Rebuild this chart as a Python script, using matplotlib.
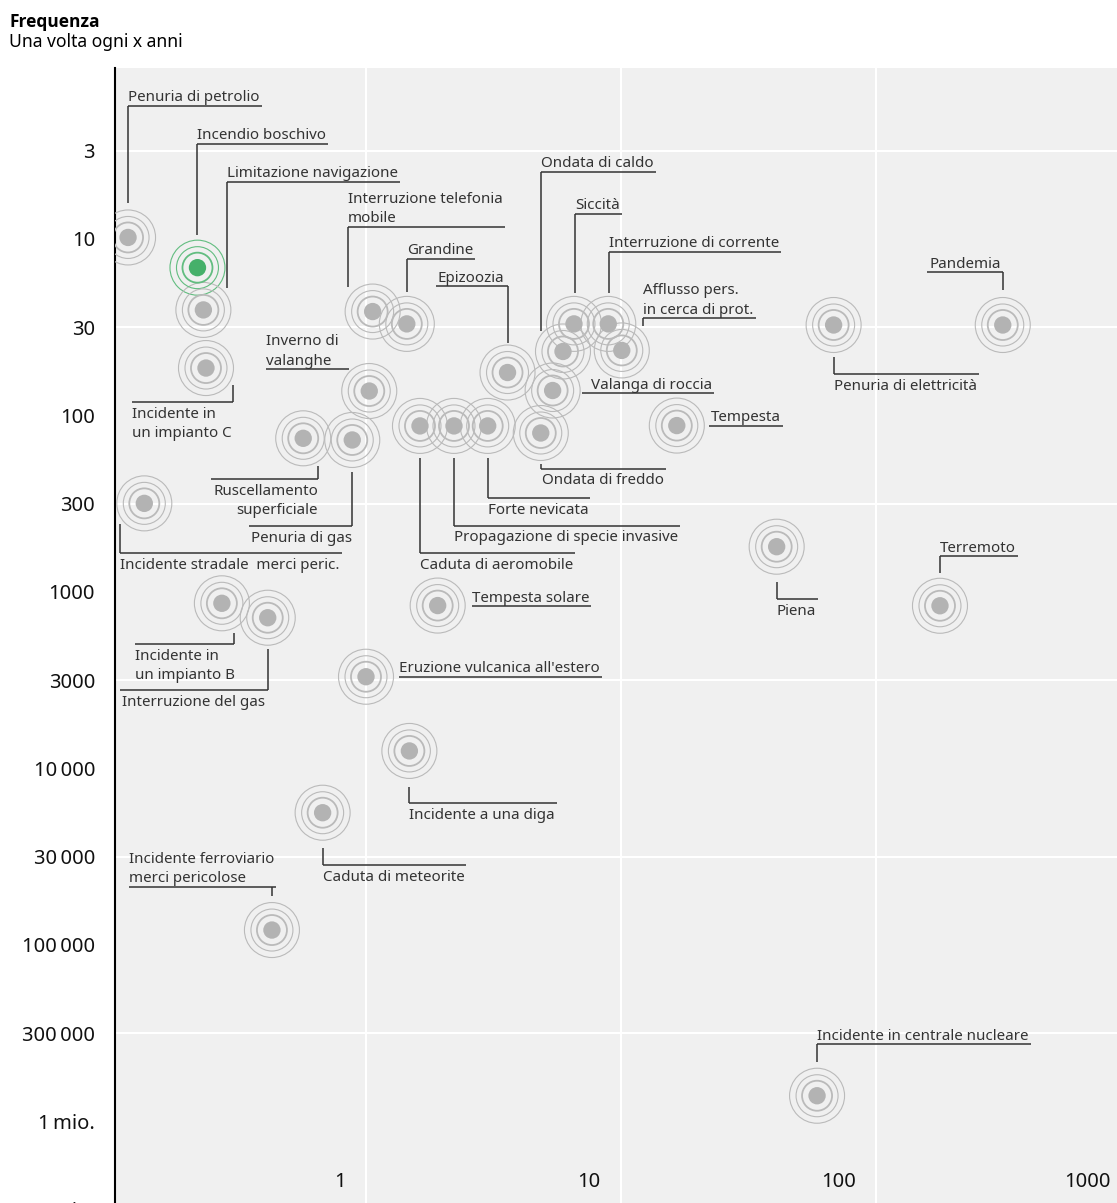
import numpy as np
import matplotlib.pyplot as plt
from matplotlib.lines import Line2D
from matplotlib.transforms import IdentityTransform, ScaledTranslation, blended_transform_factory

plt.rcParams['font.family'] = ['Noto Sans', 'DejaVu Sans']

# eventi: danno (asse x) e frequenza "una volta ogni x anni" (asse y)
eventi = [
    "Penuria di petrolio", "Incendio boschivo", "Limitazione navigazione",
    "Interruzione telefonia\nmobile", "Grandine", "Epizoozia", "Ondata di caldo",
    "Siccità", "Interruzione di corrente", "Afflusso pers.\nin cerca di prot.",
    "Valanga di roccia", "Tempesta", "Penuria di elettricità", "Pandemia",
    "Incidente in\nun impianto C", "Inverno di\nvalanghe", "Ruscellamento\nsuperficiale",
    "Penuria di gas", "Caduta di aeromobile", "Propagazione di specie invasive",
    "Forte nevicata", "Ondata di freddo", "Incidente stradale  merci peric.",
    "Piena", "Terremoto", "Tempesta solare", "Incidente in\nun impianto B",
    "Interruzione del gas", "Eruzione vulcanica all'estero", "Incidente a una diga",
    "Caduta di meteorite", "Incidente ferroviario\nmerci pericolose",
    "Incidente in centrale nucleare",
]
danno = [
    0.117, 0.219, 0.231, 1.065, 1.45, 3.6, 5.94, 6.56, 8.94, 10.1,
    5.41, 16.6, 68.4, 315, 0.2365, 1.033, 0.569, 0.886, 1.633, 2.22,
    3.01, 4.86, 0.1355, 40.9, 178.7, 1.916, 0.273, 0.413, 1.003, 1.484,
    0.678, 0.429, 58.9,
]
frequenza = [
    9.8, 14.3, 24.2, 24.7, 28.8, 55.7, 41.8, 28.8, 28.8, 41.2,
    71.2, 113.5, 29.2, 29.2, 52.4, 71.7, 133, 135.8, 114, 114,
    114, 124.5, 299, 540, 1189, 1186, 1153, 1380, 2877, 7888,
    17380, 81770, 706000,
]
evidenziato = "Incendio boschivo"

y_ticks = [3, 10, 30, 100, 300, 1000, 3000, 10000, 30000, 100000, 300000, 1e6, 3e6]
y_labels = ["3", "10", "30", "100", "300", "1000", "3000", "10\u2009000", "30\u2009000",
            "100\u2009000", "300\u2009000", "1\u2009mio.", "3\u2009mio."]
x_ticks = [1, 10, 100, 1000]
x_labels = ["1", "10", "100", "1000"]

# posizione delle etichette rispetto al punto, in pixel (y verso il basso)
# (testo sopra/sotto la linea, x verticale, inizio verticale, y linea, x testo, allineamento)
layout = [
    ("above", 0, -34, -131.7, 0, "left"),
    ("above", 0, -33, -123.7, 0, "left"),
    ("above", 23.4, -21.7, -128.3, 23.4, "left"),
    ("above", -24.4, -25, -85, -24.4, "left"),
    ("above", 0, -32, -65, 0, "left"),
    ("above", 0, -30, -86.5, -3, "right"),
    ("above", -22, -20, -179.8, -22, "left"),
    ("above", 1, -31, -110, 1, "left"),
    ("above", 0.7, -31, -72.3, 0.7, "left"),
    ("above", 21.6, -24, -32.2, 21.6, "left"),
    ("above", 29, None, 2.5, 38, "left"),
    ("above", 32.3, None, 0.2, 34.3, "left"),
    ("below", 0, 31.7, 49, 0, "left"),
    ("above", 0, -35, -52.7, -2, "right"),
    ("below", 27.3, 17, 34.3, -74.3, "left"),
    ("above", -20, None, -22, -103.3, "left"),
    ("below", 15, 27.7, 40.7, 15, "right"),
    ("below", 0, 31.7, 86.3, 0, "right"),
    ("below", 0, 32.3, 127.3, 0, "left"),
    ("below", 0, 32.3, 99.7, 0, "left"),
    ("below", 0, 32.3, 72.3, 0, "left"),
    ("below", 0, 31, 35.5, 1.5, "left"),
    ("below", -24.3, 20.7, 50, -24.3, "left"),
    ("below", 0, 35, 52.6, 0, "left"),
    ("above", 0, -32.4, -49.7, 0, "left"),
    ("above", 34, None, 0.5, 34, "left"),
    ("below", 12.3, 30, 41, -87, "left"),
    ("below", 0, 31.3, 72.3, -3, "right"),
    ("above", 33.2, None, 0, 33.2, "left"),
    ("below", 0, 35.7, 52.3, 0, "left"),
    ("below", 0, 35, 52.3, 0, "left"),
    ("above", 0, -34, -43.3, -143.2, "left"),
    ("above", 0, -34, -51.7, 0, "left"),
]

# scala y: 1, 3, 10, 30, ... a passi uguali
nodi = np.log10([1, 3, 10, 30, 100, 300, 1e3, 3e3, 1e4, 3e4, 1e5, 3e5, 1e6, 3e6, 1e7])
passi = np.arange(len(nodi), dtype=float)


def fwd(v):
    return np.interp(np.log10(np.clip(v, 1e-9, None)), nodi, passi)


def inv(p):
    return 10 ** np.interp(p, passi, nodi)


W, H = 1117, 1203
fig = plt.figure(figsize=(W / 100, H / 100), dpi=100)
top_px, bot_px, left_px = 68.3, 1253.6, 115
ax = fig.add_axes([left_px / W, (H - bot_px) / H, (W - left_px) / W, (bot_px - top_px) / H])
ax.set_facecolor('#f0f0f0')
ax.set_xscale('log')
ax.set_yscale('function', functions=(fwd, inv))
ax.set_xlim(0.104, 883.7)
ax.set_ylim(inv(13.5), inv(0.066))
ax.set_autoscale_on(False)

for s in ['top', 'right', 'bottom']:
    ax.spines[s].set_visible(False)
ax.spines['left'].set_linewidth(1.5)
ax.spines['left'].set_color('black')

ax.set_yticks(y_ticks, y_labels)
ax.tick_params(axis='y', length=0, pad=14.4, labelsize=14.5, labelcolor='#111111')
ax.set_xticks([])
ax.yaxis.set_minor_locator(plt.NullLocator())
ax.xaxis.set_minor_locator(plt.NullLocator())

for v in y_ticks[::2]:
    ax.axhline(v, color='white', lw=1.5, zorder=1)
for v in x_ticks[:3]:
    ax.axvline(v, color='white', lw=1.5, zorder=1)

tr = blended_transform_factory(ax.transData, ax.transAxes) + \
    ScaledTranslation(-20 / 100, 0, fig.dpi_scale_trans)
for v, lab in zip(x_ticks, x_labels):
    ax.text(v, 0.0604, lab, transform=tr, ha='right', va='center',
            fontsize=14.5, color='#111111', clip_on=False)

# punti con cerchi concentrici
colori = ['#46b06a' if e == evidenziato else '#b3b3b3' for e in eventi]
anelli = ['#62bd80' if e == evidenziato else '#bababa' for e in eventi]
ax.scatter(danno, frequenza, s=1568, facecolors='none', edgecolors=anelli, linewidths=0.8, zorder=3)
ax.scatter(danno, frequenza, s=914, facecolors='none', edgecolors=anelli, linewidths=0.8, zorder=3)
ax.scatter(danno, frequenza, s=467, facecolors='none', edgecolors=anelli, linewidths=1.3, zorder=3)
ax.scatter(danno, frequenza, s=156, color=colori, linewidths=0, zorder=4)

# etichette con linee di richiamo
renderer = fig.canvas.get_renderer()
ident = IdentityTransform()
line_kw = dict(color='#333333', lw=1.1, transform=ident, zorder=5, solid_capstyle='butt')
for nome, x, y, (kind, vx, vy0, ly, tx, ha) in zip(eventi, danno, frequenza, layout):
    px, py = ax.transData.transform((x, y))
    righe = nome.split("\n")
    n = len(righe)
    if kind == "above":
        basi = [ly - 4.5 - 19.5 * (n - 1 - i) for i in range(n)]
    else:
        basi = [ly + 15.5 + 19.5 * i for i in range(n)]
    sx, dx = [], []
    for riga, b in zip(righe, basi):
        t = ax.text(px + tx, py - b, riga, transform=ident, ha=ha, va='baseline',
                    fontsize=10.9, color='#333333', zorder=6)
        bb = t.get_window_extent(renderer)
        sx.append(bb.x0 - px)
        dx.append(bb.x1 - px)
    if ha == "left":
        x0, x1 = min(vx, min(sx)), max(vx, max(dx) + 2)
    else:
        x0, x1 = min(vx, min(sx) - 2), max(vx, max(dx))
    if abs(x1 - vx) < 4:
        x1 = vx
    ax.add_line(Line2D([px + x0, px + x1], [py - ly, py - ly], **line_kw))
    if vy0 is not None:
        ax.add_line(Line2D([px + vx, px + vx], [py - vy0, py - ly], **line_kw))

fig.text(9.5 / W, 1 - 27 / H, "Frequenza", fontsize=12.5, weight='bold', va='baseline',
         family=['Open Sans', 'DejaVu Sans'])
fig.text(9.5 / W, 1 - 47.3 / H, "Una volta ogni x anni", fontsize=12.6, va='baseline')

fig.savefig('out.png', dpi=100, facecolor='white')
